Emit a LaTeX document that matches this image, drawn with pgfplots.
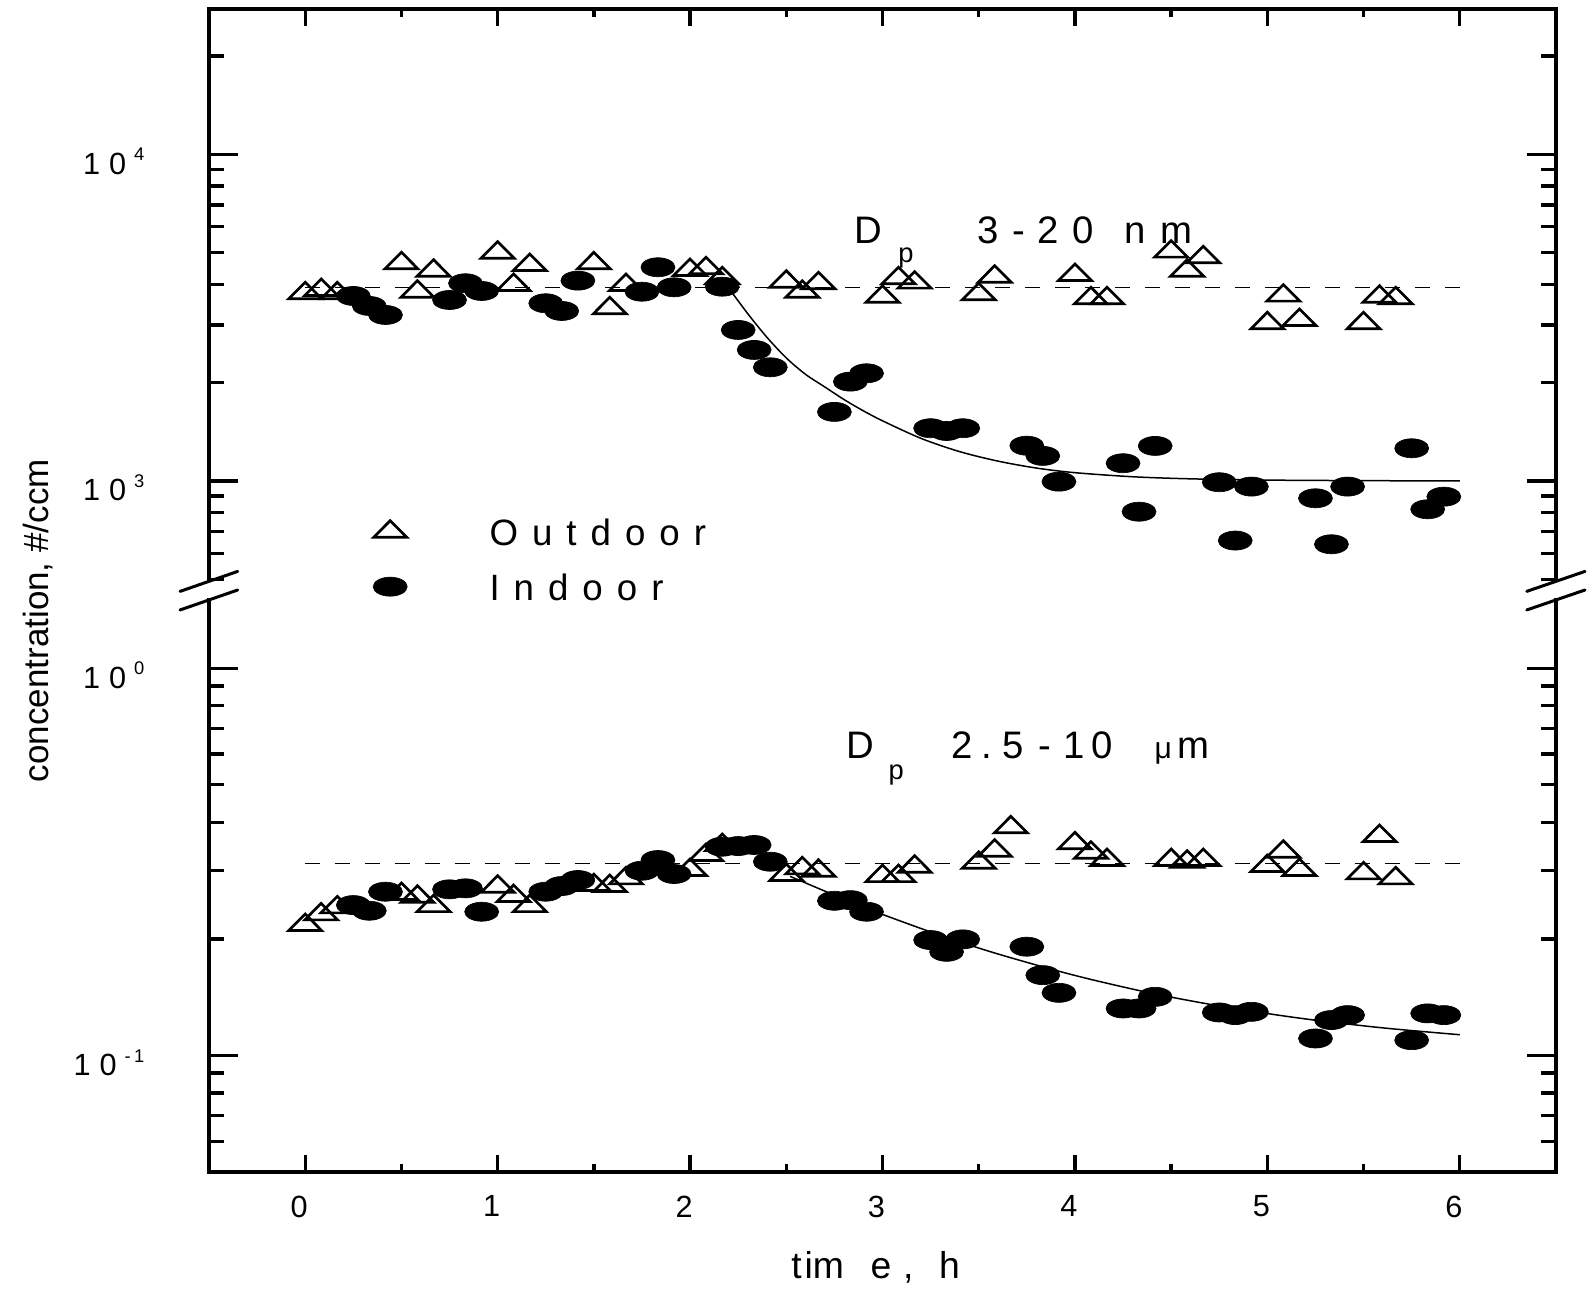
\documentclass[border=0pt]{standalone}
\usepackage{pgfplots}
\pgfplotsset{compat=1.18}
\usepackage{fontspec}
\setmainfont{Liberation Sans}
\makeatletter
\newcommand\ls[2]{\def\ls@k{#1}\ls@loop#2\@nil}
\def\ls@loop#1#2\@nil{#1\if\relax\detokenize{#2}\relax\else\kern\ls@k\relax\ls@loop#2\@nil\fi}
\makeatother
\newcommand\ytl[1]{1\kern2.7pt 0\kern2.4pt\raisebox{4pt}{\fontsize{5.5pt}{6pt}\selectfont #1}}

\pgfplotstableread{
t v
0.000 3754
0.083 3842
0.167 3754
0.500 4638
0.583 3796
0.667 4402
1.000 4998
1.083 3981
1.167 4583
1.500 4638
1.583 3378
1.667 3981
2.000 4424
2.083 4478
2.167 4173
2.500 4074
2.583 3796
2.667 4029
3.000 3665
3.083 4173
3.167 4046
3.500 3728
3.583 4220
4.000 4271
4.083 3624
4.167 3624
4.500 5034
4.583 4402
4.667 4838
5.000 3039
5.083 3692
5.167 3110
5.500 3039
5.583 3665
5.667 3624
}\upout
\pgfplotstableread{
t v
0.250 3684
0.333 3433
0.417 3222
0.750 3581
0.833 4029
0.917 3816
1.250 3499
1.333 3314
1.417 4104
1.750 3796
1.833 4510
1.917 3916
2.167 3933
2.250 2899
2.333 2518
2.417 2228
2.750 1627
2.833 2014
2.917 2136
3.250 1450
3.333 1422
3.417 1450
3.750 1282
3.833 1193
3.917 995
4.250 1133
4.333 805
4.417 1280
4.750 991
4.833 657
4.917 961
5.250 885
5.333 640
5.417 961
5.750 1259
5.833 819
5.917 895
}\upin
\pgfplotstableread{
t v
2.2 3900
2.3 3250
2.4 2750
2.5 2380
2.6 2120
2.7 1940
2.8 1775
2.9 1640
3.0 1528
3.2 1350
3.4 1230
3.6 1150
3.8 1095
4.0 1060
4.3 1030
4.6 1015
5.0 1006
5.5 1002
6.0 1000
}\upfit
\pgfplotstableread{
t v
0.000 0.2171
0.083 0.2313
0.167 0.2412
0.500 0.2611
0.583 0.2569
0.667 0.2430
1.000 0.2727
1.083 0.2580
1.167 0.2430
1.500 0.2754
1.583 0.2738
1.667 0.2866
2.000 0.3012
2.083 0.3293
2.167 0.3495
2.500 0.2923
2.583 0.3042
2.667 0.2999
3.000 0.2905
3.083 0.2905
3.167 0.3071
3.500 0.3145
3.583 0.3379
3.667 0.3883
4.000 0.3530
4.083 0.3338
4.167 0.3196
4.500 0.3196
4.583 0.3164
4.667 0.3196
5.000 0.3084
5.083 0.3358
5.167 0.3012
5.500 0.2953
5.583 0.3686
5.667 0.2866
}\loout
\pgfplotstableread{
t v
0.250 0.2445
0.333 0.2364
0.417 0.2647
0.750 0.2685
0.833 0.2701
0.917 0.2350
1.250 0.2647
1.333 0.2738
1.417 0.2838
1.750 0.2999
1.833 0.3196
1.917 0.2941
2.167 0.3459
2.250 0.3473
2.333 0.3495
2.417 0.3164
2.750 0.2508
2.833 0.2518
2.917 0.2350
3.250 0.1986
3.333 0.1852
3.417 0.1994
3.750 0.1909
3.833 0.1612
3.917 0.1451
4.250 0.1322
4.333 0.1322
4.417 0.1417
4.750 0.1291
4.833 0.1271
4.917 0.1296
5.250 0.1106
5.333 0.1234
5.417 0.1271
5.750 0.1095
5.833 0.1284
5.917 0.1271
}\loin
\pgfplotstableread{
t v
2.52 0.2900
2.8 0.2532
3.0 0.2313
3.3 0.2043
3.6 0.1828
4.0 0.1609
4.4 0.1447
4.8 0.1329
5.2 0.1242
5.6 0.1178
6.0 0.1131
}\lofit

\begin{document}
\begin{tikzpicture}
% lower panel
\begin{axis}[scale only axis, width=404.1pt, height=171.6pt,
  at={(62.7pt,36.9pt)}, anchor=south west,
  xmin=-0.5, xmax=6.5, ymode=log, ymin=0.05, ymax=1.5,
  separate axis lines, axis y line*=box, axis x line*=bottom,
  tick align=inside,
  axis line style={line width=1pt, line cap=rect},
  tick style={line width=1pt, black},
  major tick length=8.7pt, minor tick length=4.5pt,
  xtick style={/pgfplots/major tick length=5pt, /pgfplots/minor tick length=2.5pt},
  xtick={0,1,2,3,4,5,6}, minor xtick={0.5,1.5,2.5,3.5,4.5,5.5},
  xticklabels={0,1,2,3,4,5,6},
  xticklabel style={anchor=north, inner sep=0pt, yshift=-6.9pt, xshift=-1.8pt, font=\fontsize{9.2pt}{11pt}\selectfont},
  ytick={0.1,1}, yticklabels={\ytl{-\kern1pt 1},\ytl{0}},
  yticklabel style={anchor=base east, inner sep=0pt, xshift=-19.2pt, yshift=-6pt, font=\fontsize{9.2pt}{11pt}\selectfont},
  minor ytick={0.05,0.06,0.07,0.08,0.09,0.2,0.3,0.4,0.5,0.6,0.7,0.8,0.9}]
\addplot[black, line width=0.4pt, dash pattern=on 4.5pt off 4.5pt] coordinates {(0,0.3133) (6,0.3133)};
\addplot[black, line width=0.45pt, smooth] table[x=t,y=v] {\lofit};
\addplot[only marks, mark=triangle, mark size=5.7pt, mark options={solid, draw=black, line width=0.8pt, yscale=0.58}] table[x=t,y=v] {\loout};
\addplot[only marks, mark=*, mark size=5.1pt, mark options={solid, fill=black, draw=black, line width=0.2pt, yscale=0.56}] table[x=t,y=v] {\loin};
\end{axis}
% upper panel
\begin{axis}[scale only axis, width=404.1pt, height=171.09pt,
  at={(62.7pt,214.71pt)}, anchor=south west,
  xmin=-0.5, xmax=6.5, ymode=log, ymin=500, ymax=27850,
  separate axis lines, axis y line*=box, axis x line*=top,
  tick align=inside,
  axis line style={line width=1pt, line cap=rect},
  tick style={line width=1pt, black},
  major tick length=8.7pt, minor tick length=4.5pt,
  xtick style={/pgfplots/major tick length=5pt, /pgfplots/minor tick length=2.5pt},
  xtick={0,1,2,3,4,5,6}, minor xtick={0.5,1.5,2.5,3.5,4.5,5.5},
  xticklabels={},
  ytick={1000,10000}, yticklabels={\ytl{3},\ytl{4}},
  yticklabel style={anchor=base east, inner sep=0pt, xshift=-19.2pt, yshift=-6pt, font=\fontsize{9.2pt}{11pt}\selectfont},
  minor ytick={500,600,700,800,900,2000,3000,4000,5000,6000,7000,8000,9000,20000},
  legend style={at={(axis description cs:0.1214,0.108)}, anchor=north west,
    draw=none, fill=none, inner sep=0pt, row sep=8.5pt,
    font=\fontsize{11pt}{13pt}\selectfont,
    nodes={inner sep=0pt, text height=8pt, text depth=0pt},
    /tikz/every odd column/.append style={column sep=24.7pt}},
  legend cell align=left]
\addplot[forget plot, black, line width=0.4pt, dash pattern=on 4.5pt off 4.5pt] coordinates {(0,3917) (6,3917)};
\addplot[forget plot, black, line width=0.45pt, smooth] table[x=t,y=v] {\upfit};
\addplot[only marks, mark=triangle, mark size=5.7pt, mark options={solid, draw=black, line width=0.8pt, yscale=0.58}] table[x=t,y=v] {\upout};
\addlegendentry{\ls{4.2pt}{Outdoor}}
\addplot[only marks, mark=*, mark size=5.1pt, mark options={solid, fill=black, draw=black, line width=0.2pt, yscale=0.56}] table[x=t,y=v] {\upin};
\addlegendentry{\ls{4.2pt}{Indoor}}
\end{axis}
% axis break marks
\draw[line width=0.9pt, line cap=round] (54pt,211.08pt) -- (71.31pt,217.08pt);
\draw[line width=0.9pt, line cap=round] (54pt,205.5pt) -- (71.31pt,211.5pt);
\draw[line width=0.9pt, line cap=round] (458.01pt,211.08pt) -- (475.5pt,217.08pt);
\draw[line width=0.9pt, line cap=round] (458.01pt,205.5pt) -- (475.5pt,211.5pt);
% labels
\node[rotate=90, anchor=base, inner sep=0pt, font=\fontsize{10.5pt}{12pt}\selectfont] at (14.6pt,202.3pt) {concentration, \#/ccm};
\node[anchor=base, inner sep=0pt, font=\fontsize{11.2pt}{13pt}\selectfont] at (262.7pt,5.0pt) {t\kern0.9pt i\kern0pt m\kern8pt e\kern3.5pt ,\kern7.7pt h};
% annotations
\node[anchor=base west, inner sep=0pt, font=\fontsize{11.5pt}{13pt}\selectfont] at (256.1pt,315.5pt) {D};
\node[anchor=base west, inner sep=0pt, font=\fontsize{8.2pt}{10pt}\selectfont] at (269.3pt,309.75pt) {p};
\node[anchor=base west, inner sep=0pt, font=\fontsize{11.5pt}{13pt}\selectfont] at (293.1pt,315.5pt) {3\kern4.2pt -\kern3.5pt 2\kern4.2pt 0\kern9.2pt n\kern4.4pt m};
\node[anchor=base west, inner sep=0pt, font=\fontsize{11.5pt}{13pt}\selectfont] at (253.6pt,161.0pt) {D};
\node[anchor=base west, inner sep=0pt, font=\fontsize{8.2pt}{10pt}\selectfont] at (266.4pt,154.74pt) {p};
\node[anchor=base west, inner sep=0pt, font=\fontsize{11.5pt}{13pt}\selectfont] at (285.2pt,161.0pt) {2\kern2.6pt .\kern3.2pt 5\kern4.5pt -\kern3.6pt 1\kern2pt 0\kern12.5pt {\fontsize{9pt}{10pt}\selectfont μ}\kern1.8pt m};
\pgfresetboundingbox
\useasboundingbox (0,0) rectangle (477.3pt,388.5pt);
\end{tikzpicture}
\end{document}
